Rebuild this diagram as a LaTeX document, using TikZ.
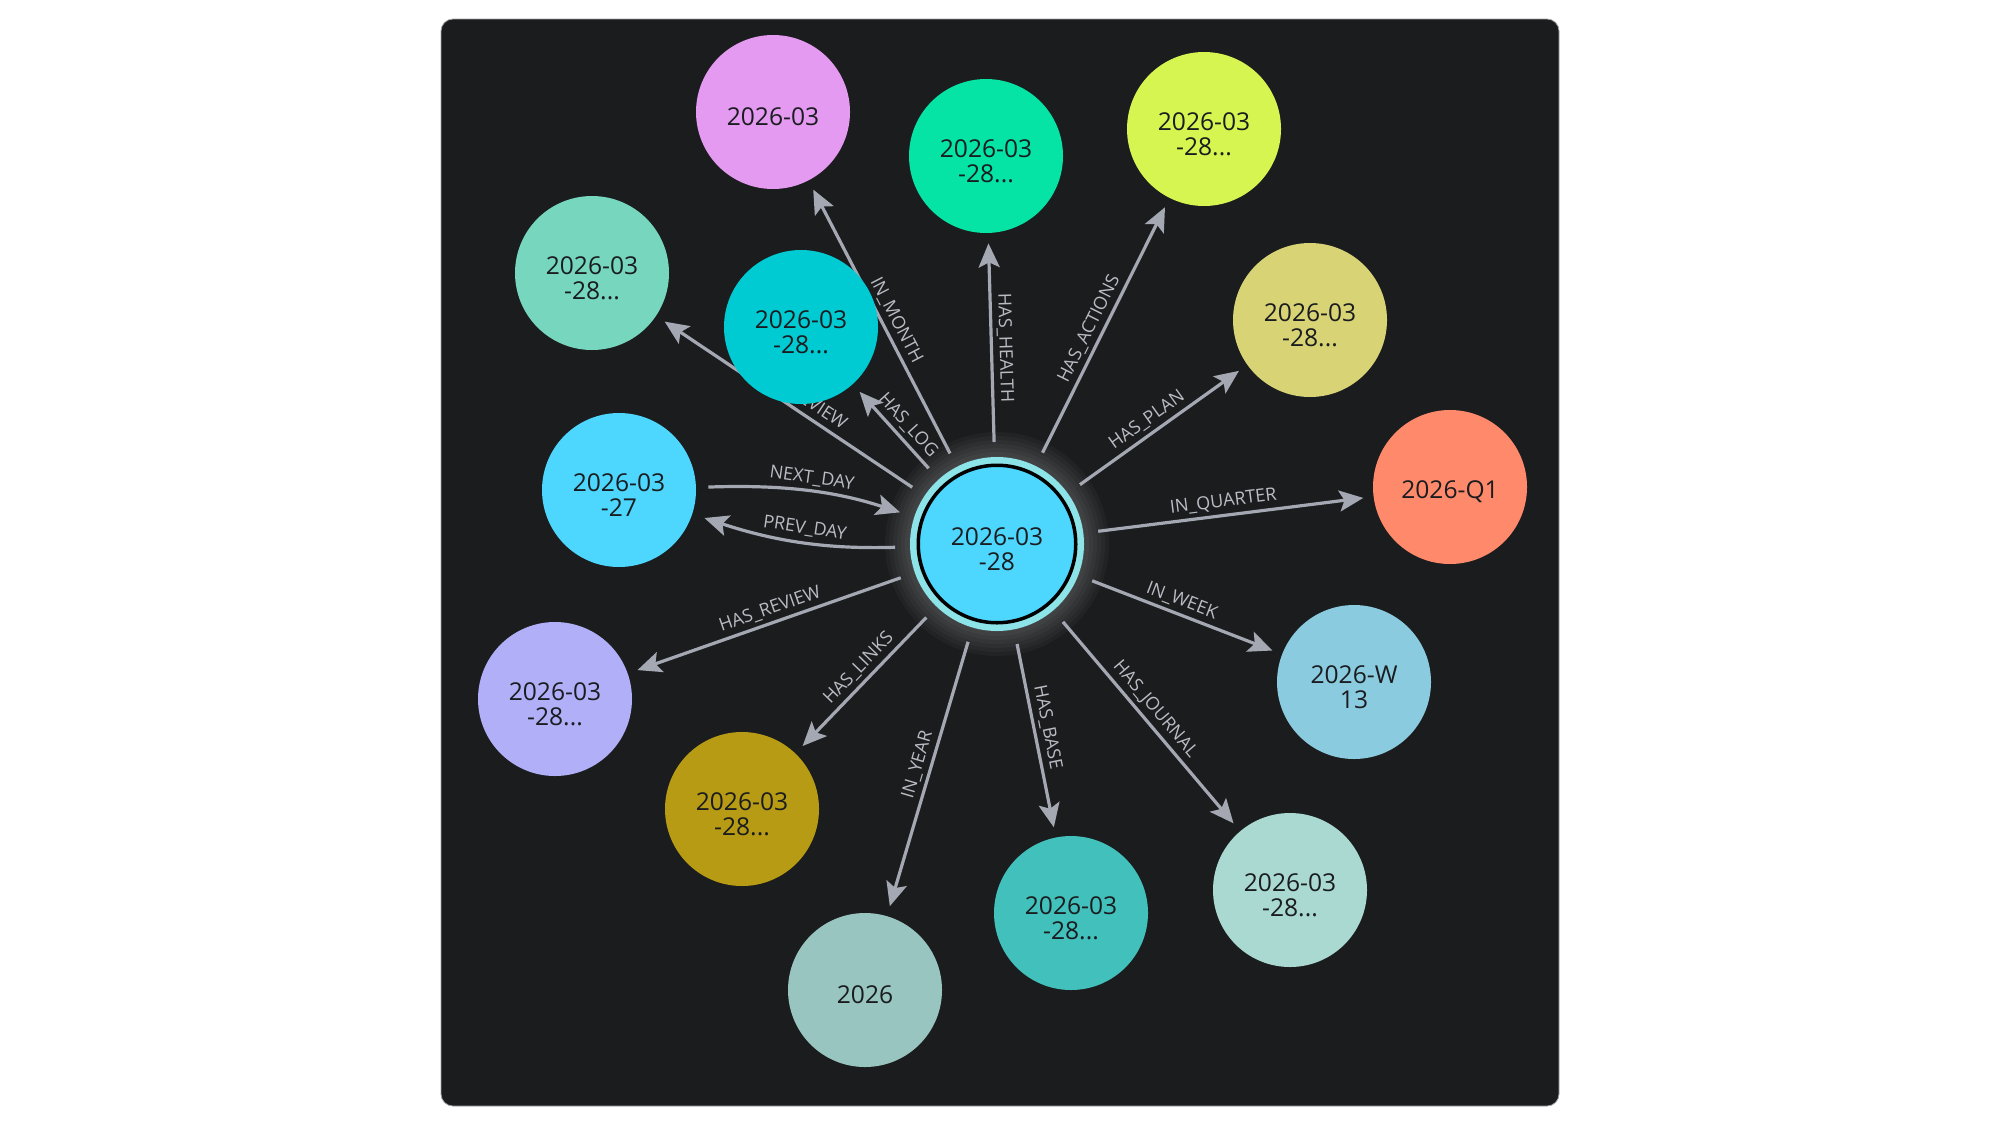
\documentclass[tikz,border=0pt]{standalone}
\usepackage{fontspec}
\setmainfont{Open Sans}
\usetikzlibrary{arrows.meta}

\definecolor{panel}{HTML}{1B1C1E}
\definecolor{panelrim}{HTML}{A0A2A6}
\definecolor{wire}{HTML}{A4A8B2}
\definecolor{wiretext}{HTML}{B8BCC3}
\definecolor{ink}{HTML}{1A1C1F}
\definecolor{dayblue}{HTML}{4DD6FE}
\definecolor{ringcyan}{HTML}{8DE4E8}
\definecolor{monthpink}{HTML}{E39AF0}
\definecolor{healthgreen}{HTML}{05E3A5}
\definecolor{actionlime}{HTML}{D6F551}
\definecolor{plankhaki}{HTML}{D8D476}
\definecolor{quartersalmon}{HTML}{FF8A6B}
\definecolor{weekblue}{HTML}{8ACBDF}
\definecolor{journalmint}{HTML}{A9D9D1}
\definecolor{baseteal}{HTML}{42C1BC}
\definecolor{yearsage}{HTML}{98C5C0}
\definecolor{linksgold}{HTML}{B89B14}
\definecolor{reviewlilac}{HTML}{B0AFF8}
\definecolor{notesgreen}{HTML}{76D6BE}
\definecolor{logcyan}{HTML}{00CBD3}

\pgfdeclarelayer{bg}
\pgfdeclarelayer{wires}
\pgfsetlayers{bg,wires,main}

\begin{document}
\begin{tikzpicture}[x=0.5pt, y=-0.5pt,
    entity/.style={circle, minimum size=77pt, inner sep=0pt, align=center,
      text=ink, font=\fontsize{12.3}{12.5}\selectfont, text height=26.5pt},
    oneline/.style={text height=14pt},
    link/.style={draw=wire, line width=1.6pt,
      -{Stealth[length=12pt, width=10.5pt, inset=2.5pt]},
      shorten <=10.75pt, shorten >=5pt},
    tag/.style={midway, sloped, above, inner sep=2pt, text=wiretext,
      font=\fontsize{9}{9}\selectfont}]
    \useasboundingbox (0,0) rectangle (2000,1125);

    % centre day and its neighbours
    \node[entity, fill=dayblue, draw=black, line width=1.75pt, minimum size=78.75pt]
      (c) at (997,544) {2026-03\\-28};
    \node[entity, oneline, fill=monthpink] (month) at (773,112) {2026-03};
    \node[entity, fill=healthgreen] (health) at (986,156) {2026-03\\-28...};
    \node[entity, fill=actionlime] (actions) at (1204,129) {2026-03\\-28...};
    \node[entity, fill=plankhaki] (plan) at (1310,320) {2026-03\\-28...};
    \node[entity, oneline, fill=quartersalmon] (quarter) at (1450,487) {2026-Q1};
    \node[entity, fill=weekblue] (week) at (1354,682) {2026-W\\13};
    \node[entity, fill=journalmint] (journal) at (1290,890) {2026-03\\-28...};
    \node[entity, fill=baseteal] (base) at (1071,913) {2026-03\\-28...};
    \node[entity, oneline, fill=yearsage] (year) at (865,990) {2026};
    \node[entity, fill=linksgold] (links) at (742,809) {2026-03\\-28...};
    \node[entity, fill=reviewlilac] (review) at (555,699) {2026-03\\-28...};
    \node[entity, fill=dayblue] (prev) at (619,490) {2026-03\\-27};
    \node[entity, fill=notesgreen] (notes) at (592,273) {2026-03\\-28...};
    \node[entity, fill=logcyan] (log) at (801,327) {2026-03\\-28...};

    \begin{pgfonlayer}{bg}
      \fill[white] (0,0) rectangle (2000,1125);
      \draw[panelrim, line width=0.4pt, fill=panel, rounded corners=6pt]
        (441,19) rectangle (1559,1106);
      \foreach \r in {44,46,...,56}
        \fill[white, opacity=0.03] (c.center) circle (\r pt);
      \fill[ringcyan] (c.center) circle (43.5pt);
    \end{pgfonlayer}

    \begin{pgfonlayer}{wires}
      \draw[link] (c) -- node[tag] {IN\_MONTH} (month);
      \draw[link] (c) -- node[tag] {HAS\_HEALTH} (health);
      \draw[link] (c) -- node[tag] {HAS\_ACTIONS} (actions);
      \draw[link] (c) -- node[tag] {HAS\_PLAN} (plan);
      \draw[link] (c) -- node[tag] {IN\_QUARTER} (quarter);
      \draw[link] (c) -- node[tag] {IN\_WEEK} (week);
      \draw[link] (c) -- node[tag] {HAS\_JOURNAL} (journal);
      \draw[link] (c) -- node[tag] {HAS\_BASE} (base);
      \draw[link] (c) -- node[tag] {IN\_YEAR} (year);
      \draw[link] (c) -- node[tag] {HAS\_LINKS} (links);
      \draw[link] (c) -- node[tag] {HAS\_REVIEW} (review);
      \draw[link] (c) -- node[tag] {HAS\_REVIEW} (notes);
      \draw[link] (c) -- node[tag] {HAS\_LOG} (log);
      \draw[link, shorten <=6pt, shorten >=10.75pt]
        (prev) to[bend left=10] node[tag] {NEXT\_DAY} (c);
      \draw[link, shorten >=6.25pt]
        (c) to[bend left=10] node[tag] {PREV\_DAY} (prev);
    \end{pgfonlayer}
\end{tikzpicture}
\end{document}
